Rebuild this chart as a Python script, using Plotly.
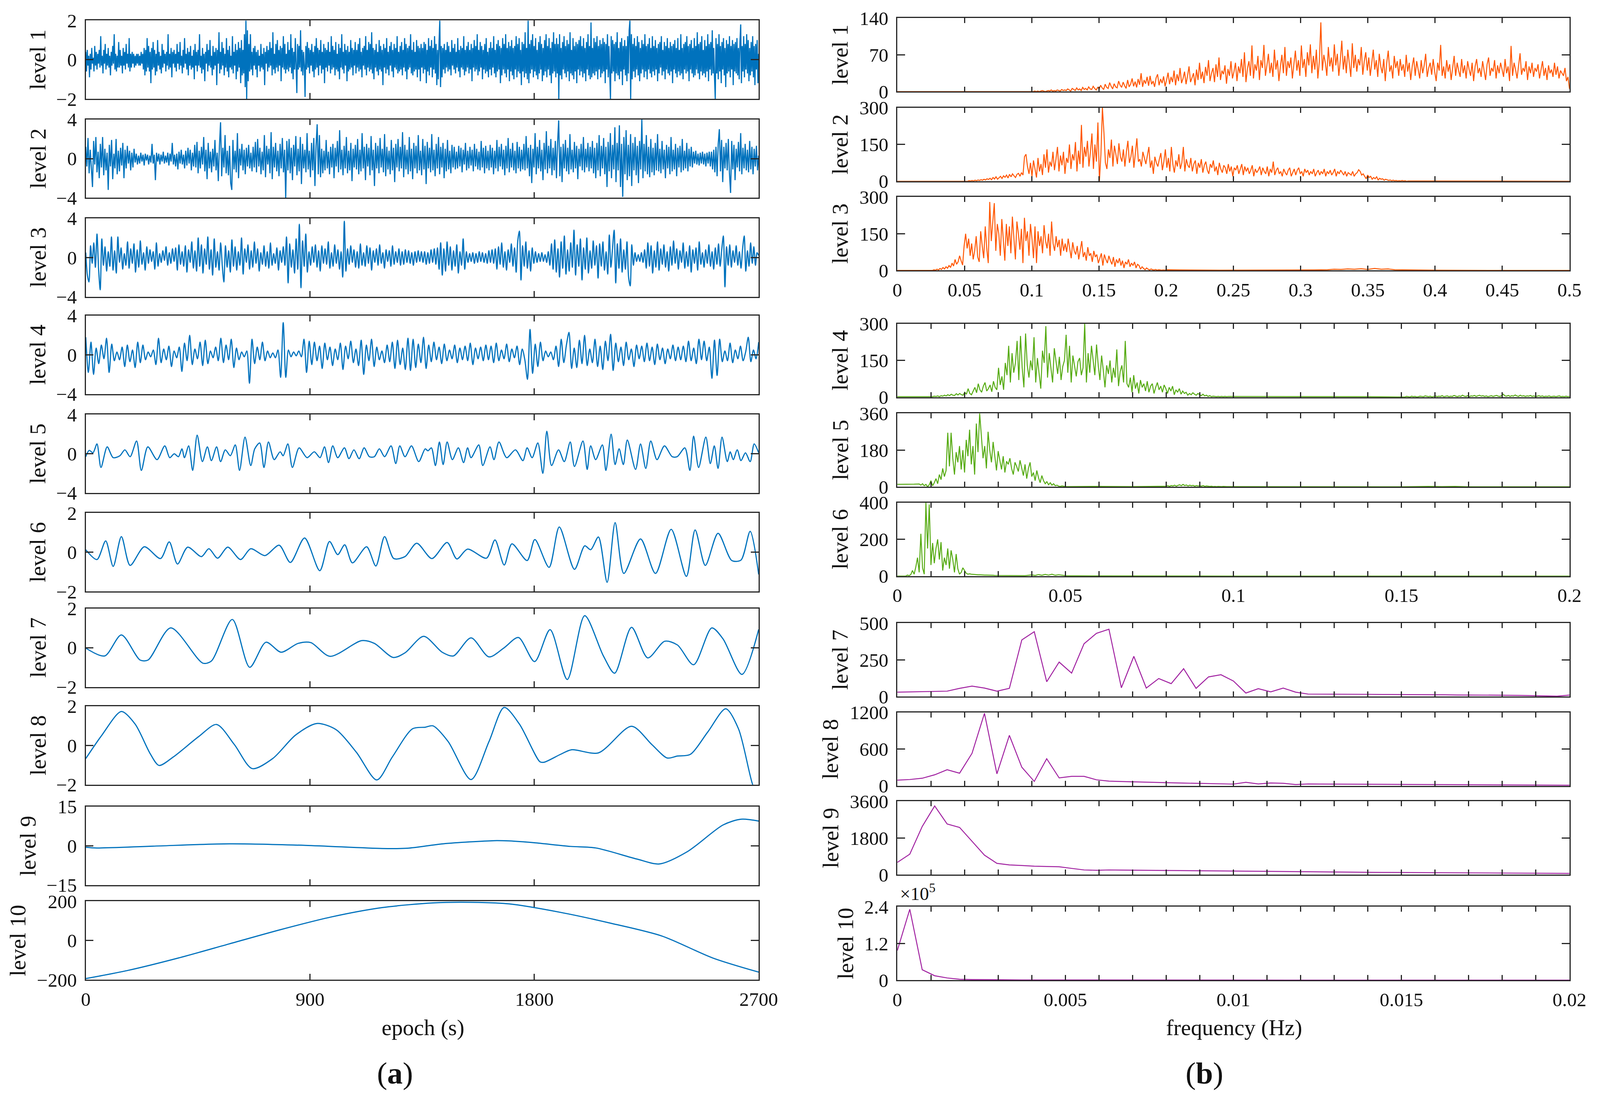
import numpy as np
import plotly.graph_objects as go

# layout is designed on a 4140 x 2834 grid; K shrinks the page so it fits the
# browser viewport, which came out about 1.1 % smaller than the window
W, H = 4140, 2834
K = 0.9889
FONT = "Liberation Serif"
INK = "#262626"
TXT = "#111111"
BLUE = "#0072BD"
ORANGE = "#FF5500"
GREEN = "#55AA11"
PURPLE = "#A020A0"
MINUS = "\u2212"


def sz(v):
    return v * K


# ---------------- (a) time series, epoch 0..2700 s ----------------
lvl1 = [
    0.4,-0.6,0.5,-0.3,0.2,-0.9,0.3,-0.5,0.6,-0.2,0.1,-0.6,0.7,-0.3,0.4,-0.5,0.3,-0.2,0.5,-0.4,1.2,-0.3,0.2,-0.7,0.5,-0.2,0.8,-0.5,0.3,-0.3,
    0.6,-0.4,0.2,-0.8,0.4,-0.3,0.7,-0.2,1.3,-0.5,0.3,-0.6,0.2,-0.4,0.9,-0.4,0.5,-0.3,0.2,-0.7,0.6,-0.3,0.4,-0.5,0.8,-0.2,0.3,-0.4,1.1,-0.6,
    0.3,-0.4,0.4,-0.2,0.3,-0.4,0.2,-0.3,0.3,-0.2,0.3,-0.3,0.2,-0.3,0.4,-0.2,0.3,-0.5,0.6,-0.8,0.5,-0.6,1.1,-0.4,0.7,-0.6,0.4,-1.2,0.6,-0.5,
    0.9,-0.4,0.5,-0.8,0.3,-0.6,1.0,-0.3,0.4,-0.5,0.2,-0.7,0.8,-0.4,0.5,-0.2,0.3,-0.6,0.4,-0.3,1.3,-0.5,0.3,-0.4,0.6,-0.9,0.4,-0.2,0.5,-0.4,
    0.3,-0.6,0.8,-0.2,0.4,-0.5,0.9,-0.3,0.2,-0.7,0.5,-0.4,1.1,-0.2,0.3,-0.5,0.6,-0.8,0.4,-0.3,0.7,-0.5,0.2,-0.4,0.5,-1.0,0.8,-0.3,0.4,-0.6,
    0.5,-0.3,1.3,-0.4,0.2,-0.7,0.6,-0.5,0.3,-1.1,0.4,-0.2,0.8,-0.6,0.5,-0.3,1.0,-0.4,0.2,-0.8,0.7,-0.5,0.4,-0.3,0.6,-1.3,0.5,-0.2,1.4,-0.7,
    0.4,-0.5,0.9,-0.3,0.6,-0.8,0.3,-0.4,1.1,-0.6,0.5,-0.9,0.7,-0.4,0.2,-0.5,1.2,-0.7,0.4,-0.3,0.8,-1.0,0.5,-0.6,0.9,-0.4,0.6,-1.2,1.0,-0.8,
    0.5,-0.7,1.3,-1.4,2.0,-2.0,1.5,-1.1,0.8,-0.6,1.3,-0.5,0.4,-0.8,0.6,-0.3,0.7,-0.5,0.4,-0.9,0.5,-0.3,0.2,-0.6,0.8,-0.4,0.3,-0.5,0.6,-1.3,
    0.4,-0.2,0.7,-0.6,0.5,-0.4,0.9,-0.3,0.6,-0.8,1.4,-0.5,0.3,-0.7,0.8,-0.4,1.0,-0.6,0.5,-0.3,0.7,-1.1,0.6,-0.4,1.2,-0.5,0.8,-0.7,0.3,-0.5,
    0.9,-0.6,0.5,-0.4,1.3,-0.7,0.6,-1.0,0.4,-0.5,1.1,-0.3,-1.7,0.8,-0.5,0.7,-0.4,1.5,-0.6,0.5,-0.8,0.4,-0.3,-1.9,0.7,-0.5,0.9,-0.4,0.6,-0.7,
    0.5,-0.3,0.8,-0.6,0.4,-0.9,0.7,-0.5,1.1,-0.4,0.6,-0.8,0.5,-0.3,1.0,-0.7,0.4,-0.5,0.8,-1.2,0.6,-0.4,0.5,-0.6,0.9,-0.3,0.4,-0.7,1.2,-0.5,
    0.7,-0.4,0.5,-0.8,0.9,-0.5,0.3,-0.6,0.8,-1.0,0.6,-0.4,1.3,-0.5,0.4,-0.7,0.8,-0.3,0.5,-1.1,0.7,-0.6,0.4,-0.5,1.0,-0.4,0.6,-0.8,0.5,-0.3,
    0.9,-0.7,0.5,-0.4,0.8,-0.6,1.1,-0.5,0.4,-0.9,0.6,-0.3,0.7,-0.5,1.2,-0.8,0.5,-0.4,0.9,-0.6,0.8,-0.5,1.4,-0.7,0.6,-1.0,0.5,-0.4,0.8,-0.6,
    0.4,-0.8,1.0,-0.5,0.7,-0.6,0.5,-1.3,0.8,-0.4,0.6,-0.7,1.1,-0.5,0.4,-0.8,0.7,-0.3,0.9,-0.6,0.5,-0.9,0.8,-0.4,0.6,-0.5,1.2,-0.7,0.4,-0.6,
    0.7,-0.5,0.9,-0.8,0.5,-0.4,1.1,-0.6,0.8,-1.0,0.6,-0.5,0.7,-0.4,1.3,-0.7,0.5,-0.8,0.9,-0.6,0.4,-0.5,1.0,-0.9,0.7,-0.5,0.6,-1.1,0.8,-0.4,
    0.6,-0.7,0.9,-0.5,0.8,-1.2,0.5,-0.6,1.1,-0.8,0.7,-0.4,1.0,-0.9,0.6,-0.5,1.2,-0.7,0.8,-1.3,0.5,-1.0,0.9,2.0,-1.4,0.7,-0.9,0.6,-0.5,0.8,
    -0.7,0.5,-0.4,0.9,-0.6,0.7,-0.5,0.4,-0.8,1.0,-0.3,0.6,-0.5,0.8,-0.7,0.4,-0.4,1.1,-0.6,0.5,-0.9,0.7,-0.4,0.6,-0.5,1.2,-0.8,0.5,-0.6,0.7,
    -0.4,0.9,-0.7,0.5,-0.5,0.8,-1.1,0.6,-0.4,1.0,-0.6,0.7,-0.5,1.3,-0.8,0.5,-0.6,0.9,-0.4,0.7,-1.0,0.5,-0.5,0.8,-0.7,1.1,-0.6,0.4,-0.9,0.6,
    -0.5,0.9,-0.8,0.6,-0.4,1.2,-0.7,0.5,-0.9,0.8,-0.6,1.0,-0.5,0.7,-1.2,0.6,-0.8,1.1,-0.5,0.8,-0.7,1.3,-0.9,0.6,-0.5,0.9,-1.1,0.7,-0.6,1.0,
    -0.8,0.6,-1.0,0.7,-0.5,1.2,-0.9,0.8,-0.6,1.1,-0.7,0.5,-1.3,0.9,-0.6,0.8,-0.9,1.4,-0.7,0.6,-1.0,2.0,-1.2,0.8,-0.7,1.0,-0.5,1.3,-0.9,0.7,
    -0.6,1.1,-0.8,0.5,-1.0,0.9,-0.7,1.2,-0.5,0.8,-1.1,0.6,-0.8,1.0,-0.6,1.3,-0.9,0.7,-0.5,1.1,-0.8,0.6,-1.2,0.9,-0.7,1.4,-0.6,0.8,-0.9,1.1,
    -0.7,0.8,-2.0,1.3,-0.8,0.6,-1.0,0.9,-0.5,1.2,-0.7,0.7,-0.9,1.0,-0.6,0.8,-1.1,1.4,-0.7,0.5,-0.8,1.1,-1.0,0.7,-0.6,0.9,-1.2,0.8,-0.5,1.0,
    -0.8,1.2,-0.6,0.7,-0.9,1.1,-0.7,0.6,-1.1,0.9,-0.5,1.3,-0.8,0.7,-1.0,1.9,-0.9,0.6,-0.7,1.1,-0.8,0.9,-0.6,1.2,-1.0,0.7,-0.5,1.0,-0.9,0.8,
    -0.7,1.1,-0.6,0.9,-1.2,0.8,-0.5,1.3,-0.9,0.7,-0.8,-2.0,1.2,-0.7,1.0,-0.6,0.8,-1.1,0.9,-0.7,1.4,-0.8,0.6,-1.0,0.9,-0.6,1.1,-1.3,0.7,-0.5,
    1.0,-0.8,0.7,-1.1,1.2,-0.7,1.5,2.0,-2.0,1.3,-1.0,0.8,-0.6,1.1,-0.9,0.7,-0.5,1.2,-0.8,0.9,-1.1,0.6,-0.7,1.0,-0.5,0.8,-0.9,1.3,-0.6,0.7,
    -1.0,0.8,-0.5,1.1,-0.7,0.6,-0.9,1.2,-0.6,0.7,-0.8,1.0,-0.5,0.6,-1.1,0.8,-0.7,0.9,-0.4,1.2,-0.8,0.5,-0.6,0.9,-1.0,0.7,-0.5,1.1,-0.7,0.6,
    -0.8,0.9,-0.6,0.7,-1.2,0.8,-0.5,1.0,-0.7,0.6,-0.9,1.1,-0.6,0.5,-0.8,1.3,-0.7,0.6,-1.0,0.8,-0.5,0.9,-0.7,1.2,-0.6,0.7,-1.1,0.8,-0.5,1.0,
    -0.7,0.6,-0.9,1.1,-0.8,0.7,-0.5,1.4,-0.7,0.8,-1.0,0.9,-0.6,1.2,-0.8,0.5,-0.7,1.0,-0.9,0.7,-0.6,1.3,-1.1,0.8,-0.5,0.9,-0.8,1.5,-0.7,0.6,
    -0.9,-2.0,1.1,-0.7,0.8,-1.0,1.3,-0.6,0.7,-1.2,0.9,-0.5,1.1,-0.8,0.6,-1.4,1.0,-0.7,0.8,-0.6,1.2,-0.9,0.7,-0.5,1.0,-1.3,0.8,-0.6,0.9,-0.7,
    1.1,-0.8,0.6,-1.0,0.9,1.8,-1.2,0.7,-0.6,1.2,-0.9,0.8,-0.5,1.3,-0.7,1.0,-1.1,0.6,-0.8,0.9,-0.6,1.2,-0.9,0.7,-1.3,0.8,-0.5,1.0,-1.2,0.3,
]

lvl2 = [
    1.2,-0.8,2.1,-1.5,0.9,-1.1,-2.9,1.8,-0.6,2.2,-1.4,0.7,-2.0,1.5,-0.9,2.2,-1.7,1.0,-1.2,0.6,-3.2,1.4,-0.8,1.9,-2.1,0.5,-1.0,2.0,-1.6,0.8,
    -1.3,1.1,-0.7,1.6,-2.0,0.9,-1.0,1.3,-0.5,0.8,-1.2,0.6,-0.9,1.0,-0.4,0.5,-0.6,0.3,-0.5,0.6,-0.3,0.4,-0.7,0.5,-0.2,0.4,-0.6,0.3,-0.4,1.5,
    -0.5,0.4,-2.2,0.6,-0.3,0.5,-0.6,0.4,-0.3,0.7,-0.5,0.3,-0.4,0.6,-0.7,0.5,-0.3,1.6,-0.6,0.4,-0.8,0.5,-1.1,0.7,-0.5,0.9,-0.6,0.4,-1.0,0.8,
    -0.7,1.1,-0.5,0.9,-1.2,0.6,-0.8,1.4,-0.9,1.7,-1.5,0.8,-1.0,1.2,-0.6,2.2,-1.3,0.9,-2.1,1.6,-1.0,0.7,-1.4,1.0,-0.8,1.9,-1.2,0.6,-2.3,1.3,
    3.7,-1.8,1.1,-0.9,2.4,-1.5,0.8,-1.7,1.3,-2.5,-3.2,1.9,-1.1,0.8,-1.4,2.6,-2.0,1.0,-0.7,1.5,-1.2,0.9,-1.6,1.1,-0.8,1.4,-1.0,0.6,-1.3,1.2,
    -0.9,1.7,-1.4,2.0,-0.8,1.1,-1.6,0.7,-1.2,2.4,-1.9,1.3,-0.6,1.0,-1.5,2.7,-2.1,1.2,-0.9,1.6,-1.3,0.8,-1.8,1.5,-1.0,2.1,-1.4,0.9,-4.0,1.8,
    -1.2,2.0,-1.5,1.1,-2.2,1.4,-0.8,2.3,-1.7,1.0,-1.3,2.2,-2.6,1.5,-1.0,0.9,-1.4,2.6,-1.1,0.8,-1.9,1.6,-1.2,2.1,-2.8,1.3,3.5,-1.6,2.4,-1.9,
    1.0,-1.5,0.8,-1.2,1.9,-1.0,0.7,-1.6,1.2,-0.9,1.5,-2.0,1.1,-0.8,1.8,-1.4,2.9,-1.1,0.9,-1.7,1.3,-1.0,2.2,-1.5,0.8,-1.2,1.6,-2.3,1.0,-0.9,
    1.4,-1.1,2.0,-1.6,0.9,-1.3,2.6,-1.0,1.2,-2.2,1.5,-0.8,1.1,-1.7,2.3,-1.2,0.9,-2.8,1.6,-1.0,1.3,-1.5,2.1,-0.9,1.0,-1.4,2.5,-1.8,1.2,-1.1,
    0.8,-1.6,1.9,-1.2,1.1,-2.4,1.5,-0.9,2.0,-1.3,1.2,-1.0,2.7,-1.9,1.4,-1.1,0.9,-1.6,2.2,-1.3,1.0,-2.1,1.6,-1.0,1.3,-1.5,2.4,-1.2,0.8,-1.7,
    2.0,-1.1,1.3,-2.6,1.7,-1.0,1.1,-1.4,2.5,-1.2,0.9,-1.8,1.5,-1.0,2.2,-1.6,1.2,-0.9,1.6,-2.0,1.0,-1.3,1.9,-1.1,0.8,-1.5,1.4,-0.9,1.2,-1.1,
    0.7,-1.0,1.3,-0.8,1.1,-1.4,0.9,-0.6,1.6,-1.2,0.8,-1.0,1.2,-0.7,0.9,-1.3,1.5,-0.8,1.0,-1.1,0.7,-1.2,1.8,-0.9,1.1,-1.5,1.3,-1.0,0.8,-1.2,
    1.4,-0.9,1.1,-1.6,0.8,-1.0,1.9,-1.3,1.2,-0.8,1.5,-1.1,0.9,-1.7,1.3,-1.0,2.1,-1.4,1.0,-0.9,1.6,-1.2,0.8,-1.5,1.7,-1.0,1.2,-1.3,0.9,-1.1,
    1.5,-1.2,2.3,-1.0,1.1,-1.8,1.4,-2.5,1.0,-0.9,2.6,-1.6,1.2,-1.0,1.9,-1.3,0.9,-2.2,1.6,-1.1,2.8,-1.5,1.3,-1.0,2.0,-1.7,1.1,-1.2,1.8,-2.0,
    1.6,3.9,-1.8,1.2,-2.4,1.5,-1.0,1.9,-1.3,1.1,-1.6,2.5,-1.1,0.9,-1.4,1.7,-1.0,1.3,-2.1,1.0,-0.8,1.5,-1.2,2.2,-1.4,1.0,-0.9,1.6,-1.3,1.2,
    -1.0,1.8,-1.5,1.1,-2.0,1.6,-1.2,2.4,-1.8,1.3,-1.0,2.1,-1.6,1.2,-2.9,1.7,-1.3,2.6,-2.0,1.4,-1.1,3.2,-2.4,1.6,-1.2,3.4,-2.9,1.5,-3.9,2.2,
    -1.6,2.9,-2.2,1.4,-1.8,2.5,-2.8,1.6,-1.2,2.2,-1.7,1.3,-2.5,1.8,-1.1,4.0,-2.0,1.5,-1.3,2.4,-1.6,1.2,-1.9,2.0,-1.4,1.1,-1.7,1.6,-1.2,2.5,
    -1.3,1.0,-1.5,1.8,-1.1,0.9,-2.0,1.4,-1.0,1.2,-1.6,2.2,-1.3,0.9,-1.1,1.5,-1.8,1.1,-0.9,1.3,-1.4,2.0,-1.2,0.8,-1.0,1.6,-1.3,1.0,-0.8,1.2,
    -0.9,0.7,-0.5,0.8,-0.6,0.5,-0.7,0.6,-0.5,0.7,-0.6,0.5,-0.8,0.6,-0.5,0.7,-0.8,0.7,-1.1,0.9,-1.4,1.2,-1.8,1.5,3.0,-1.3,1.9,-2.4,1.2,-1.0,
    1.6,-1.2,2.0,-1.5,-3.5,1.8,-1.1,1.4,-2.2,1.0,-0.9,1.7,-1.3,2.6,-1.6,1.1,-1.0,1.5,-1.2,0.9,-1.4,1.8,-1.1,1.2,-1.6,1.0,-0.8,1.3,-1.2,0.3,
]

lvl3 = [
    0.5,-1.8,-2.5,1.2,-0.6,1.5,-1.0,2.4,-1.2,-3.3,1.9,-0.8,1.1,-1.4,0.6,-0.9,2.1,-1.3,0.7,-1.6,2.1,-0.5,1.0,-1.2,0.4,-0.8,1.6,-1.1,0.9,-0.6,
    1.4,-1.5,0.8,-1.0,1.7,-0.7,0.5,-1.3,1.1,-0.6,0.8,-0.4,0.6,-1.2,1.5,-0.9,0.4,-0.5,0.7,-0.3,1.1,-0.8,0.5,-0.6,0.9,-0.4,1.0,-1.3,1.3,-0.7,
    0.6,-0.9,1.2,-1.5,0.8,-0.5,1.6,-1.1,0.7,-1.4,2.0,-0.9,1.3,-1.6,0.9,-0.7,2.1,-1.2,0.8,-1.8,1.9,-1.0,0.6,-1.3,1.5,-0.8,-2.5,1.2,-1.0,0.7,
    -1.5,1.8,-0.9,1.1,-1.3,0.6,-0.8,2.0,-1.7,0.9,-0.5,1.3,-1.2,0.7,-1.0,1.6,-0.6,0.9,-1.4,0.5,-0.7,1.2,-0.9,0.6,-1.1,1.5,-0.8,0.4,-0.6,1.0,
    -1.3,0.7,-0.5,1.1,-0.8,2.1,-2.6,1.4,-1.0,0.8,-1.6,1.9,-1.2,3.4,-3.1,1.7,-0.9,2.4,-1.5,0.6,-0.8,1.1,-0.5,1.3,-1.0,0.7,-1.4,1.2,-0.6,0.9,
    -0.7,1.6,-1.1,0.5,-0.9,1.3,-0.6,0.8,-1.2,0.6,-2.0,3.7,-1.4,0.9,-0.7,1.2,-0.5,0.8,-1.0,0.6,-1.1,1.4,-0.8,0.5,-0.9,1.2,-0.6,1.0,-1.3,0.7,
    -0.5,0.9,-0.8,1.3,-0.6,0.5,-1.1,0.8,-0.4,0.7,-0.9,1.2,-0.7,0.6,-0.5,0.9,-0.8,0.6,-0.7,0.8,-0.5,0.7,-0.6,0.5,-0.8,0.6,-0.5,0.7,-0.4,0.6,
    -0.5,0.6,-0.7,0.5,-0.6,0.8,-0.5,0.9,-0.7,1.0,-1.2,1.5,-1.8,0.9,-1.4,1.6,-0.8,1.1,-1.3,0.7,-0.9,1.3,-1.6,0.6,-0.8,1.9,-1.2,0.6,-0.5,0.4,
    -0.4,0.5,-0.6,0.4,-0.5,0.6,-0.4,0.5,-0.5,0.4,-0.6,0.7,-0.5,0.8,-0.6,0.9,-1.2,1.1,-0.7,1.5,-1.0,0.6,-1.3,0.8,-0.5,1.4,-0.9,1.0,-1.5,1.7,
    2.7,-2.3,1.2,-0.9,1.6,-1.1,0.7,-1.4,1.0,-0.6,0.6,-0.5,0.4,-0.4,0.5,-0.4,0.3,-0.5,0.6,-0.8,1.4,-1.2,1.8,-1.5,0.9,-2.0,1.6,-1.1,2.2,-1.7,
    0.8,-1.4,1.5,-1.0,2.8,-1.8,1.3,-0.9,1.9,-2.3,1.0,-1.2,2.0,-1.6,0.7,-1.1,1.7,-0.8,1.2,-2.1,1.4,-0.9,1.6,-1.3,0.6,-1.7,2.3,-1.0,0.9,2.8,
    -2.6,1.4,-1.1,1.9,-1.5,0.8,-1.2,1.6,-2.0,-2.9,1.3,-0.8,0.5,-0.4,0.3,-0.4,0.5,-0.5,0.8,-1.1,1.5,-0.9,1.2,-1.6,0.7,-1.0,1.6,-1.3,0.9,-0.7,
    1.3,-1.0,0.6,-1.4,1.1,-0.8,1.7,-0.6,0.9,-1.2,0.7,-0.5,1.5,-1.1,0.6,-0.9,1.2,-1.5,0.8,-0.6,1.0,-1.3,1.6,-0.7,0.5,-1.0,0.8,-0.6,1.3,-0.9,
    0.6,-1.2,1.0,-0.7,1.4,-0.9,0.8,2.2,-3.0,1.1,-0.8,1.3,-1.0,0.7,-0.5,1.2,-0.8,0.6,-1.1,0.9,2.2,-1.4,0.7,-0.9,1.5,-0.6,1.1,-0.8,0.5,0.2,
]

lvl4 = [
    1.8,-1.8,1.3,-2.0,0.7,-0.9,1.0,-0.4,1.7,-1.8,1.1,-0.6,0.3,-0.5,0.8,-1.2,1.0,-0.7,0.5,-1.3,1.3,-0.8,1.0,-0.5,0.3,-0.2,
    0.5,-1.0,1.7,-0.8,0.6,-0.5,0.9,-1.2,0.4,-0.3,0.8,-1.7,1.2,-0.6,2.0,-1.0,0.6,-0.4,1.3,-1.1,1.5,-0.9,0.4,-0.3,0.8,-0.6,
    1.7,-0.8,1.0,-0.5,1.6,-1.3,0.7,-0.5,0.3,-0.2,0.4,-2.9,1.6,-0.9,0.8,-0.5,1.3,-0.6,0.4,-0.3,0.2,-0.3,0.5,-2.3,3.3,-2.3,
    0.5,-0.2,0.3,-0.1,0.4,-0.2,1.6,-1.8,1.4,-1.0,1.3,-0.6,0.9,-1.4,1.2,-0.5,0.8,-1.1,0.6,-0.5,1.2,-1.5,0.9,-0.4,1.4,-0.8,
    0.6,-1.1,1.5,-2.0,1.0,-0.6,1.6,-1.2,0.8,-0.5,0.4,-0.8,1.0,-0.7,1.3,-1.4,1.5,-1.0,0.7,-1.5,1.7,-1.6,1.6,-1.3,1.1,-0.8,
    1.8,-1.4,1.0,-0.7,1.3,-0.5,0.8,-0.9,1.1,-0.6,0.5,-0.4,1.0,-0.8,0.7,-0.5,0.9,-0.6,1.2,-1.0,0.7,-0.4,0.8,-0.6,1.0,-0.5,
    0.9,-0.8,1.2,-0.6,0.5,-0.4,1.1,-0.7,0.6,-0.3,0.9,-1.0,0.6,-0.5,-2.5,2.6,-1.9,1.1,-1.2,1.3,-0.6,0.4,-0.2,0.3,-0.5,0.9,
    -1.2,1.6,-0.8,1.0,2.3,-1.4,0.7,-1.3,1.5,-0.9,2.0,-1.1,0.6,-0.8,1.6,-1.2,0.9,-1.5,1.4,-0.6,2.1,-1.6,1.2,-0.7,0.8,-1.1,
    1.3,-0.5,0.6,-1.2,1.0,-0.4,0.9,-0.7,1.2,-0.6,0.8,-1.0,1.1,-0.5,0.7,-0.9,0.6,-0.4,1.0,-0.6,0.8,-0.5,0.9,-0.7,1.4,-0.6,
    0.7,-0.9,1.6,-0.5,1.4,-0.6,0.8,-2.4,1.5,-2.1,1.6,-0.7,0.4,-0.6,1.2,-0.8,0.5,-0.4,0.9,-0.6,0.3,1.8,-0.7,0.5,-0.4,1.3,
]

t5 = [0,14,29,45,61,86,110,137,157,178,204,223,249,286,317,337,355,372,386,396,
      413,429,447,468,488,504,525,541,560,580,600,617,639,662,678,698,715,733,756,780,
      792,811,829,856,888,917,940,958,974,991,1011,1038,1056,1076,1097,1117,1138,1158,1178,1199,
      1225,1244,1260,1281,1307,1336,1362,1373,1387,1403,1419,1434,1450,1471,1495,1516,1532,1546,1577,1593,
      1622,1638,1658,1689,1724,1754,1771,1791,1814,1834,1850,1869,1897,1920,1944,1961,1995,2012,2026,2046,
      2073,2087,2108,2124,2140,2157,2173,2206,2226,2247,2267,2292,2322,2353,2373,2404,2424,2439,2459,2488,
      2506,2522,2537,2553,2574,2586,2598,2614,2629,2647,2666,2682,2700]
lvl5 = [-0.3,0.35,0.1,1.0,-1.4,0.7,-0.4,-0.2,0.4,-0.3,1.3,-1.7,0.7,-0.6,0.8,-0.4,0.0,-0.3,0.5,-0.4,
        0.8,-1.7,1.9,-0.8,0.7,-0.7,0.7,-0.8,0.4,-0.2,0.9,-1.7,1.7,-1.2,0.5,1.1,-1.4,1.2,-0.6,0.2,
        -0.2,1.0,-1.4,0.6,-0.4,0.2,-0.4,0.7,-0.9,0.8,-0.4,0.6,-0.5,0.4,-0.5,0.6,-0.3,-0.3,0.5,-0.3,
        0.8,-1.0,0.8,-0.3,0.8,-0.8,0.5,0.3,0.6,-1.2,1.2,-1.1,1.2,-0.6,0.6,-0.9,0.6,-0.4,0.9,-1.2,
        0.7,-0.6,1.2,-0.4,0.4,-0.7,0.6,-0.4,1.1,-2.0,2.3,-1.2,0.4,-0.8,1.2,-1.3,1.3,-1.6,0.8,-0.6,
        0.9,-1.7,2.0,-1.1,0.5,-1.1,1.4,-1.6,1.0,-1.5,1.3,-0.6,0.8,-0.3,-0.3,0.6,-1.7,1.8,-1.4,1.7,
        -1.0,0.8,-1.5,1.7,-0.8,0.2,-0.6,0.4,-0.7,0.1,-0.8,1.0,0.1]

t6 = [0,45,80,110,143,178,235,300,335,368,409,464,494,529,570,621,662,719,776,821,
      878,939,978,1011,1039,1070,1127,1164,1199,1236,1281,1328,1389,1450,1489,1532,1608,1642,1679,1710,
      1771,1802,1859,1900,1961,2002,2026,2057,2092,2124,2159,2226,2286,2349,2410,2445,2486,2537,2592,2629,
      2666,2700]
lvl6 = [0.13,-0.37,0.58,-0.72,0.8,-0.67,0.28,-0.32,0.53,-0.6,0.26,-0.22,0.18,-0.3,0.26,-0.37,0.18,-0.17,0.36,-0.52,
        0.73,-0.94,0.55,-0.12,0.38,-0.54,0.28,-0.7,0.8,-0.32,-0.22,0.46,-0.32,0.5,-0.34,0.16,-0.3,0.63,-0.65,0.43,
        -0.42,0.65,-0.77,1.29,-0.87,0.33,0.13,0.78,-1.53,1.51,-1.08,0.68,-1.08,1.17,-1.23,1.14,-0.67,0.97,-0.42,-0.4,
        1.07,-1.13]

t7 = [0,76,143,218,250,341,470,504,588,658,723,784,852,903,980,1107,1158,1234,1281,1356,
      1430,1475,1546,1618,1679,1736,1801,1863,1932,2002,2077,2122,2190,2255,2323,2374,2439,2512,2557,2633,2700]
lvl7 = [-0.02,-0.42,0.65,-0.63,-0.63,1.01,-0.79,-0.68,1.44,-1.0,0.28,-0.23,0.22,0.26,-0.44,0.36,0.22,-0.5,-0.26,0.58,
        -0.23,-0.42,0.5,-0.47,0.0,0.52,-0.71,0.92,-1.62,1.63,-0.42,-1.3,1.04,-0.52,0.33,0.14,-0.87,1.01,0.45,-1.36,0.93]

t8 = [0,65,143,198,259,294,351,453,525,596,668,750,842,927,1005,1086,1168,1230,1311,1362,
      1393,1454,1546,1618,1679,1740,1822,1838,1904,1949,2057,2190,2271,2333,2374,2425,2496,2568,2619,2676,2700]
lvl8 = [-0.67,0.53,1.73,1.09,-0.43,-1.02,-0.59,0.45,1.07,0.05,-1.18,-0.67,0.53,1.12,0.8,-0.35,-1.76,-0.59,0.85,0.93,
        1.0,0.2,-1.74,0.2,1.94,1.09,-0.83,-0.86,-0.46,-0.22,-0.38,0.98,0.05,-0.64,-0.54,-0.46,0.69,1.87,0.85,-2.0,-2.6]

t9 = [0,45,270,576,882,1189,1291,1434,1638,1699,1800,1945,2047,2210,2302,2414,2557,2629,2700]
lvl9 = [-0.5,-0.8,-0.1,0.8,0.2,-1.0,-0.9,0.8,2.0,1.9,1.2,-0.2,-0.8,-5.0,-6.9,-2.2,8.0,10.2,9.5]

t10 = [0,167,372,576,780,984,1189,1393,1546,1699,1904,2108,2312,2516,2700]
lvl10 = [-194,-153,-89,-17,55,120,168,192,195,187,144,88,23,-89,-161]

# ---------------- (b) spectra ----------------
s1_pre_f, s1_pre_v = [0.0, 0.099], [0, 0]
s1_range = (0.1, 0.5)
s1 = [0,0,1,0,1,0,1,2,1,0,1,2,1,3,1,2,1,3,2,1,4,2,3,
      2,5,3,1,6,4,2,7,3,5,2,8,4,6,3,9,5,4,10,6,3,8,
      5,12,7,4,14,8,6,17,10,5,15,9,7,20,12,8,18,11,6,22,9,14,25,
      10,19,8,24,13,35,9,22,15,28,11,30,14,20,9,26,33,12,24,16,29,10,
      22,36,14,28,18,40,12,33,20,45,16,25,38,14,30,48,18,27,35,12,42,22,55,
      24,38,16,47,30,60,20,35,45,18,52,28,65,22,40,33,50,15,43,30,58,25,
      38,55,20,48,35,62,28,75,18,44,58,30,88,25,52,40,68,22,60,45,89,30,50,
      72,35,55,28,80,42,60,20,48,70,35,85,30,58,45,65,25,52,78,40,60,30,
      88,45,62,28,75,50,90,35,68,42,80,25,58,132,40,70,55,30,85,48,65,38,90,
      50,72,30,60,97,42,68,35,80,55,28,92,45,70,38,62,50,85,32,58,75,40,
      65,30,55,80,42,60,28,72,48,35,62,20,55,78,38,50,25,68,45,58,30,62,40,
      52,28,70,38,55,22,48,65,30,58,42,25,60,35,50,72,28,45,55,32,62,38,
      20,55,40,89,30,48,25,60,38,52,22,45,68,30,55,40,28,62,35,50,25,58,42,
      30,55,20,48,62,35,45,28,58,40,22,52,65,30,45,38,60,25,50,35,55,42,
      28,62,35,48,20,87,30,55,42,25,50,73,32,45,38,58,22,48,35,55,28,45,38,
      52,25,40,58,30,45,22,50,35,42,28,55,32,48,25,40,35,30,45,20,28,5]
s1_post_f, s1_post_v = [], []

s2_pre_f, s2_pre_v = [0.0, 0.0495], [0, 0]
s2_range = (0.05, 0.39)
s2 = [0,1,0,2,1,3,1,4,2,5,3,6,4,8,5,10,
      7,12,6,15,9,18,8,14,20,11,22,16,25,13,28,18,30,22,15,28,32,20,35,
      25,100,110,60,30,75,20,85,50,15,95,40,70,25,110,55,130,35,80,60,120,45,
      90,140,40,105,65,120,30,95,75,150,50,110,85,160,40,125,70,230,55,140,100,165,60,
      120,195,50,150,80,240,0,110,300,200,75,50,130,95,170,60,145,110,70,155,100,80,
      130,60,120,165,75,100,145,55,110,175,80,90,60,120,95,70,105,140,55,85,30,100,75,
      60,90,115,45,80,130,55,95,40,140,70,35,85,60,110,50,75,140,40,90,65,55,
      95,40,70,85,30,75,55,90,35,65,80,45,30,70,55,85,40,60,25,75,50,35,65,
      55,30,70,40,60,20,55,45,65,30,50,70,25,60,40,55,30,45,65,20,50,35,
      45,60,25,55,40,30,60,20,50,35,80,25,45,55,30,40,20,50,35,25,45,55,20,
      35,50,25,45,55,30,40,20,50,35,45,25,40,30,50,20,35,45,25,40,30,50,
      20,40,30,45,25,35,50,20,40,30,45,35,25,40,20,35,30,25,40,20,30,35,47,
      40,25,30,20,10,25,15,20,8,15,10,18,5,12,8,10,4,8,6,3,5,2,
      4,2,3,1,2,1,3,1,2,0,1,1,0,1,0,1,0,0,1,0]
s2_post_f, s2_post_v = [0.4, 0.5], [0, 0]

s3_pre_f, s3_pre_v = [0.0, 0.024], [0, 0]
s3_range = (0.025, 0.2)
s3 = [1,0,3,1,5,2,8,4,12,6,15,9,20,12,30,18,45,25,35,60,40,22,
      100,150,90,130,60,110,45,80,140,55,35,160,100,50,180,90,30,280,120,200,275,80,190,
      150,60,210,120,40,190,100,180,70,220,130,45,200,150,85,170,30,215,120,160,60,190,
      130,50,180,30,160,100,140,70,185,120,90,150,60,200,110,80,140,95,125,60,130,80,110,
      75,130,90,50,115,80,65,100,45,85,120,55,75,40,95,60,70,35,80,55,65,30,
      50,70,20,65,45,30,60,40,25,55,15,45,30,50,20,40,10,35,25,45,15,30,20,
      35,10,25,20,5,15,8,3,10,5,2,6,3,2,4,1,3,2,1,2,1,3]
s3_post_f = [0.21,0.24,0.27,0.3,0.31,0.32,0.325,0.33,0.335,0.34,0.345,0.35,0.355,0.36,0.365,0.37,0.38,0.4,0.45,0.5]
s3_post_v = [2,1,1,1,2,3,5,4,6,5,7,4,8,5,6,3,2,1,0,0]

s4_pre_f, s4_pre_v = [0.0, 0.0095], [2, 2]
s4_range = (0.01, 0.1)
s4 = [3,2,4,3,5,2,6,4,8,5,10,6,12,8,7,14,9,15,10,8,
      20,12,35,15,10,25,40,18,55,30,20,45,60,25,35,50,22,65,40,30,
      120,50,85,30,140,90,210,60,180,100,140,230,70,250,120,40,260,130,80,150,
      110,245,60,160,100,35,190,140,290,80,180,120,60,200,150,95,165,70,125,150,
      255,100,210,60,170,130,85,145,160,90,120,300,60,180,100,210,145,90,215,130,
      70,170,110,40,130,95,150,60,120,80,195,45,105,130,60,230,55,40,80,20,
      90,35,60,15,70,40,55,25,65,20,45,55,15,40,60,30,45,20,50,35,
      15,40,25,45,10,30,20,35,12,25,15,20,8,15,10,18,12,8,15,10,
      6,12,5,8,3,6,2,4,3,2,3,2,3,2,3,2,3,3,3,3]
s4_mid_f, s4_mid_v = [0.104, 0.12, 0.14, 0.149], [3, 2, 2, 1]
s4b_range = (0.15, 0.2)
s4b = [1,2,1,3,2,1,4,2,3,1,2,4,3,2,5,3,2,4,1,3,5,2,4,3,6,2,3,5,2,4,
       3,7,4,2,5,3,8,4,3,6,2,5,4,7,3,5,8,4,6,3,5,2,4,6,3,5,7,4,3,6,
       12,5,4,7,3,6,4,9,5,3,8,4,6,3,5,4,7,3,5,2,4,6,3,5,2,4,3,5,2,3,
       4,2,3,5,2,3,2,4,2,3]

s5_pre_f, s5_pre_v = [0.0, 0.001, 0.002, 0.003, 0.004, 0.005, 0.0065], [12, 12, 12, 12, 13, 13, 14]
s5_range = (0.007, 0.05)
s5 = [8,15,5,12,0,10,30,5,20,40,15,60,35,90,50,80,265,100,265,140,60,170,120,200,85,180,70,
      230,150,280,110,200,60,310,170,360,250,140,200,90,270,180,120,220,150,80,175,
      130,85,150,70,125,110,140,90,60,120,100,75,130,95,55,110,40,90,120,50,
      70,30,80,45,20,55,30,15,25,10,20,8,15,5,8,3,2,4,2,1]
s5_mid_f, s5_mid_v = [0.0505, 0.06, 0.07, 0.0795], [1, 2, 1, 2]
s5b_range = (0.08, 0.1)
s5b = [3,5,2,6,4,8,3,7,10,5,12,6,9,4,8,5,7,3,6,4,5,3,6,2,4,3,2,3,1,2,1,2,1,1,2,1,1,1,1,1,1]
s5_post_f = [0.105, 0.12, 0.15, 0.158, 0.162, 0.166, 0.17, 0.2]
s5_post_v = [1, 0, 0, 2, 1, 2, 0, 0]

s6_pre_f, s6_pre_v = [0.0, 0.0025], [0, 0]
s6_range = (0.003, 0.03)
s6 = [5,2,8,30,10,50,100,
      20,230,45,10,400,150,390,60,180,70,150,200,90,
      185,30,100,60,150,40,140,90,20,120,40,10,20,45,30,
      15,10,12,10,9,8,8,7,7,6,6,5,5,5,4,4,4,3,3,3]
s6_post_f = [0.032,0.035,0.038,0.04,0.041,0.042,0.043,0.044,0.045,0.046,0.047,0.048,0.05,0.06,0.1,0.2]
s6_post_v = [3,3,2,6,3,8,4,9,5,10,4,7,2,1,0,0]

# levels 7-10: bins of 1/2700 Hz
BIN = 1 / 2700
s7 = [30,32,34,35,37,56,71,58,37,56,386,442,101,235,160,360,431,459,60,274,
      58,123,88,190,56,134,149,106,24,54,32,58,30,17,17,16,16,15,15,14,
      14,13,13,12,12,11,11,10,10,9,8,6,4,3,10]
s8 = [93,103,124,180,263,206,531,1185,196,825,304,72,443,129,155,155,98,77,
      70,64,58,53,49,45,41,37,33,28,57,31,46,42,21,30,
      29,28,27,26,25,24,23,22,21,20,19,18,17,16,15,14,13,12,11,10,9]
s9 = [603,1005,2365,3370,2488,2318,1638,958,556,479,448,417,402,386,309,232,216,232,
      226,220,214,208,202,196,190,184,178,172,166,160,155,150,145,140,135,130,125,120,
      116,112,108,104,100,96,92,88,85,82,79,76,73,70,67,64,62]
s10 = [96800,231800,34000,14400,7200,3000,2000,1500,1200,1000,800,700,600,
       550,500,460,420,390,360,330,300,280,260,240,220,200,190,180,170,160,150,140,130,
       125,120,115,110,105,100,95,90,85,80,75,70,65,60,55,50,45,40,35,30,25,20]


def spectrum(pre_f, pre_v, rng, vals, post_f=(), post_v=(), extra=()):
    f = list(pre_f) + list(np.linspace(rng[0], rng[1], len(vals)))
    v = list(pre_v) + list(vals)
    for ef, ev in extra:
        f += list(ef)
        v += list(ev)
    f += list(post_f)
    v += list(post_v)
    return f, v


# ---------------- figure ----------------
fig = go.Figure()

AX = dict(showline=True, linecolor=INK, linewidth=sz(3), mirror="ticks", ticks="inside",
          tickcolor=INK, tickwidth=sz(3), showgrid=False, zeroline=False, fixedrange=True,
          automargin=False, tickfont=dict(family=FONT, size=sz(50), color=TXT))

LEFT_X = (222, 1964)
RIGHT_X = (2323, 4063)
left_tops = [53, 309, 565, 817, 1073, 1328, 1575, 1828, 2088, 2333]
LEFT_H = 203
right_tops = [47, 279, 510, 838, 1070, 1301, 1613, 1844, 2074, 2347]
RIGHT_H = 190


def ax_names(n):
    return ("xaxis" if n == 1 else f"xaxis{n}", "yaxis" if n == 1 else f"yaxis{n}",
            "x" if n == 1 else f"x{n}", "y" if n == 1 else f"y{n}")


def fmt(v):
    return f"{v:g}".replace("-", MINUS)


def panel(n, xdom, top, h, xr, xticks, show_x, yr, ylabels=None, yvals=None, minor_dt=None, xticklen=15):
    xa, ya, xr_id, yr_id = ax_names(n)
    if yvals is None:
        yvals = [yr[0], (yr[0] + yr[1]) / 2, yr[1]]
    if ylabels is None:
        ylabels = [fmt(v) for v in yvals]
    xdict = dict(AX, domain=[xdom[0] / W, xdom[1] / W], anchor=yr_id, range=xr,
                 tickvals=xticks, ticktext=[fmt(v) for v in xticks], showticklabels=show_x,
                 ticklen=sz(xticklen), ticklabelstandoff=4)
    if minor_dt:
        xdict["minor"] = dict(dtick=minor_dt, tick0=0, ticks="inside", ticklen=sz(xticklen),
                              tickwidth=sz(3), tickcolor=INK, showgrid=False)
    fig.update_layout(**{
        xa: xdict,
        ya: dict(AX, domain=[1 - (top + h) / H, 1 - top / H], anchor=xr_id, range=yr,
                 tickvals=yvals, ticktext=ylabels, ticklen=sz(20), ticklabelstandoff=10),
    })
    return xr_id, yr_id


def line(axes, x, y, color, width, shape="linear"):
    fig.add_trace(go.Scatter(x=x, y=y, mode="lines", xaxis=axes[0], yaxis=axes[1],
                             line=dict(color=color, width=sz(width), shape=shape, smoothing=0.8),
                             hoverinfo="skip", showlegend=False))


# (a) panels
left_ticks = [0, 900, 1800, 2700]
left_ranges = [(-2, 2), (-4, 4), (-4, 4), (-4, 4), (-4, 4), (-2, 2), (-2, 2), (-2, 2), (-15, 15), (-200, 200)]
left_series = [
    (list(np.linspace(0, 2700, len(lvl1))), lvl1, "linear"),
    (list(np.linspace(0, 2700, len(lvl2))), lvl2, "linear"),
    (list(np.linspace(0, 2700, len(lvl3))), lvl3, "spline"),
    (list(np.linspace(0, 2700, len(lvl4))), lvl4, "spline"),
    (t5, lvl5, "spline"),
    (t6, lvl6, "spline"),
    (t7, lvl7, "spline"),
    (t8, lvl8, "spline"),
    (t9, lvl9, "spline"),
    (t10, lvl10, "spline"),
]
for i in range(10):
    axes = panel(i + 1, LEFT_X, left_tops[i], LEFT_H, [0, 2700], left_ticks, i == 9, list(left_ranges[i]))
    x, y, shape = left_series[i]
    line(axes, x, y, BLUE, 3, shape)

# (b) panels
g1_ticks = [round(0.05 * k, 2) for k in range(11)]
g2_ticks = [0, 0.05, 0.1, 0.15, 0.2]
g3_ticks = [0, 0.005, 0.01, 0.015, 0.02]

right_cfg = [
    # x range, major ticks, minor step, y range, colour, data
    ([0, 0.5], g1_ticks, None, (0, 140), ORANGE,
     spectrum(s1_pre_f, s1_pre_v, s1_range, s1, s1_post_f, s1_post_v)),
    ([0, 0.5], g1_ticks, None, (0, 300), ORANGE,
     spectrum(s2_pre_f, s2_pre_v, s2_range, s2, s2_post_f, s2_post_v)),
    ([0, 0.5], g1_ticks, None, (0, 300), ORANGE,
     spectrum(s3_pre_f, s3_pre_v, s3_range, s3, s3_post_f, s3_post_v)),
    ([0, 0.2], g2_ticks, 0.01, (0, 300), GREEN,
     spectrum(s4_pre_f, s4_pre_v, s4_range, s4,
              extra=[(s4_mid_f, s4_mid_v), (np.linspace(s4b_range[0], s4b_range[1], len(s4b)), s4b)])),
    ([0, 0.2], g2_ticks, 0.01, (0, 360), GREEN,
     spectrum(s5_pre_f, s5_pre_v, s5_range, s5, s5_post_f, s5_post_v,
              extra=[(s5_mid_f, s5_mid_v), (np.linspace(s5b_range[0], s5b_range[1], len(s5b)), s5b)])),
    ([0, 0.2], g2_ticks, 0.01, (0, 400), GREEN,
     spectrum(s6_pre_f, s6_pre_v, s6_range, s6, s6_post_f, s6_post_v)),
    ([0, 0.02], g3_ticks, 0.001, (0, 500), PURPLE, (list(np.arange(len(s7)) * BIN), s7)),
    ([0, 0.02], g3_ticks, 0.001, (0, 1200), PURPLE, (list(np.arange(len(s8)) * BIN), s8)),
    ([0, 0.02], g3_ticks, 0.001, (0, 3600), PURPLE, (list(np.arange(len(s9)) * BIN), s9)),
    ([0, 0.02], g3_ticks, 0.001, (0, 240000), PURPLE, (list(np.arange(len(s10)) * BIN), s10)),
]
labelled = {2, 5, 9}
for i, (xr, xt, mdt, yr, col, (fx, fy)) in enumerate(right_cfg):
    if i == 9:
        yv, yl = [0, 120000, 240000], ["0", "1.2", "2.4"]
    else:
        yv, yl = None, None
    axes = panel(11 + i, RIGHT_X, right_tops[i], RIGHT_H, xr, xt, i in labelled, list(yr),
                 ylabels=yl, yvals=yv, minor_dt=mdt, xticklen=13)
    line(axes, fx, fy, col, 2.5)

# ---------------- text ----------------
ann = []
LBL = dict(family=FONT, size=sz(58), color=TXT)
left_lbl_x = [98, 98, 98, 98, 98, 98, 98, 98, 72, 46]
right_lbl_x = [2175, 2175, 2175, 2175, 2175, 2175, 2174, 2150, 2150, 2189]
for i in range(10):
    cy = left_tops[i] + LEFT_H / 2
    ann.append(dict(text=f"level {i + 1}", x=left_lbl_x[i] / W, y=1 - cy / H, xref="paper", yref="paper",
                    textangle=-90, showarrow=False, font=LBL, xanchor="center", yanchor="middle"))
    cy = right_tops[i] + RIGHT_H / 2
    ann.append(dict(text=f"level {i + 1}", x=right_lbl_x[i] / W, y=1 - cy / H, xref="paper", yref="paper",
                    textangle=-90, showarrow=False, font=LBL, xanchor="center", yanchor="middle"))

ann.append(dict(text="epoch (s)", x=1095 / W, y=1 - 2660 / H, xref="paper", yref="paper",
                showarrow=False, font=LBL, xanchor="center", yanchor="middle"))
ann.append(dict(text="frequency (Hz)", x=3195 / W, y=1 - 2660 / H, xref="paper", yref="paper",
                showarrow=False, font=LBL, xanchor="center", yanchor="middle"))
ann.append(dict(text="(<b>a</b>)", x=1022 / W, y=1 - 2778 / H, xref="paper", yref="paper",
                showarrow=False, font=dict(family=FONT, size=sz(80), color=TXT), xanchor="center", yanchor="middle"))
ann.append(dict(text="(<b>b</b>)", x=3118 / W, y=1 - 2778 / H, xref="paper", yref="paper",
                showarrow=False, font=dict(family=FONT, size=sz(80), color=TXT), xanchor="center", yanchor="middle"))
ann.append(dict(text="\u00d710<sup>5</sup>", x=2328 / W, y=1 - 2342 / H, xref="paper", yref="paper",
                showarrow=False, font=dict(family=FONT, size=sz(48), color=TXT), xanchor="left", yanchor="bottom"))

fig.update_layout(width=round(W * K), height=round(H * K),
                  margin=dict(l=0, r=0, t=0, b=0, pad=0, autoexpand=False),
                  paper_bgcolor="white", plot_bgcolor="white", annotations=ann, showlegend=False)

# page margin off so the figure sits in the window's top-left corner
fig.write_html("out.html", config={"displayModeBar": False},
               post_script="document.body.style.margin='0';document.body.style.overflow='hidden';")
